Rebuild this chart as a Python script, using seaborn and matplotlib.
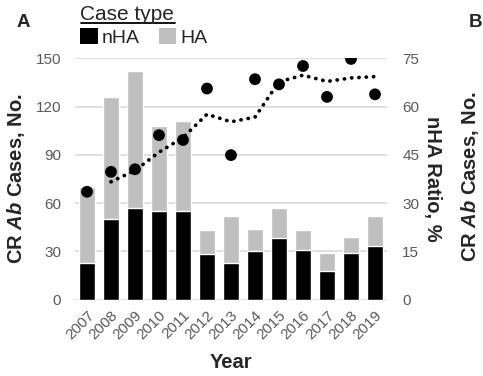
import numpy as np
import pandas as pd
import matplotlib
matplotlib.use("Agg")
import matplotlib.pyplot as plt
from matplotlib.patches import Patch
from matplotlib.lines import Line2D
import seaborn as sns

years = [2007, 2008, 2009, 2010, 2011, 2012, 2013, 2014, 2015, 2016, 2017, 2018, 2019]
total_cases = [70, 126, 142, 108, 111, 43, 52, 44, 57, 43, 29, 39, 52]
nha_cases = [23, 50, 57, 55, 55, 28, 23, 30, 38, 31, 18, 29, 33]
nha_ratio = [33.5, 39.7, 40.5, 51.1, 49.6, 65.6, 44.9, 68.5, 66.9, 72.6, 63.0, 74.8, 63.8]
left_ticks = [0, 30, 60, 90, 120, 150]
right_ticks = [0, 15, 30, 45, 60, 75]

df = pd.DataFrame({"Year": years, "Total": total_cases, "nHA": nha_cases, "Ratio": nha_ratio})
df["Trend"] = df["Ratio"].rolling(2).mean()

sns.set_theme(style="white")
plt.rcParams["font.family"] = ["Liberation Sans", "DejaVu Sans"]
plt.rcParams["mathtext.fontset"] = "custom"
plt.rcParams["mathtext.rm"] = "Liberation Sans"
plt.rcParams["mathtext.it"] = "Liberation Sans:italic"
plt.rcParams["mathtext.bf"] = "Liberation Sans:bold"
plt.rcParams["mathtext.bfit"] = "Liberation Sans:italic:bold"

W, H = 483, 376
fig = plt.figure(figsize=(W / 100, H / 100), dpi=100)
ax = fig.add_axes([75 / W, 1 - 299.5 / H, (387 - 75) / W, (299.5 - 58.3) / H])

gray_col = "#bfbfbf"
tick_col = "#595959"
label_fs = 14.5

sns.barplot(data=df, x="Year", y="Total", native_scale=True, color=gray_col,
            saturation=1, width=0.69, ax=ax, zorder=2)
sns.barplot(data=df, x="Year", y="nHA", native_scale=True, color="black",
            saturation=1, width=0.69, ax=ax, zorder=3)

ax.set_xlim(2006.5, 2019.5)
ax.set_ylim(0, 150)
ax.set_yticks(left_ticks)
ax.set_xticks(years)
ax.set_xticklabels([str(y) for y in years], rotation=45, ha="right",
                   rotation_mode="anchor", fontsize=11, color=tick_col)
ax.tick_params(axis="x", length=0, pad=6)
ax.tick_params(axis="y", length=0, pad=10, labelsize=11, labelcolor=tick_col)
ax.yaxis.grid(True, color="#d9d9d9", lw=1.2, zorder=0)
ax.set_axisbelow(True)
for s in ax.spines.values():
    s.set_visible(False)
ax.set_xlabel("Year", fontsize=label_fs, fontweight="bold", labelpad=8)
ax.set_ylabel(r"CR $\mathbfit{Ab}$ Cases, No.", fontsize=label_fs, fontweight="bold", labelpad=6)

ax2 = ax.twinx()
sns.scatterplot(data=df, x="Year", y="Ratio", color="black", s=72, ax=ax2,
                zorder=5, edgecolor="none", legend=False)
sns.lineplot(data=df.dropna(), x="Year", y="Trend", color="black", lw=2.7,
             ax=ax2, zorder=4, dashes=False, legend=False)
ax2.lines[-1].set_linestyle((0, (0.05, 1.9)))
ax2.lines[-1].set_dash_capstyle("round")
ax2.set_ylim(0, 75)
ax2.set_yticks(right_ticks)
ax2.tick_params(axis="y", length=0, pad=11, labelsize=11, labelcolor=tick_col)
for s in ax2.spines.values():
    s.set_visible(False)
ax2.set_ylabel("nHA Ratio, %", fontsize=label_fs, fontweight="bold", rotation=270, labelpad=16)
ax2.set_xlim(2006.5, 2019.5)

# legend
fig.text(80 / W, 1 - 20.5 / H, "Case type", fontsize=15, ha="left", va="baseline")
fig.add_artist(Line2D([80.5 / W, 175 / W], [1 - 23 / H, 1 - 23 / H], color="black", lw=1.3))
handles = [Patch(facecolor="black", edgecolor="none", label="nHA"),
           Patch(facecolor=gray_col, edgecolor="none", label="HA")]
fig.legend(handles=handles, loc="center left", bbox_to_anchor=(80 / W, 1 - 37.5 / H),
           ncol=2, frameon=False, fontsize=14, handlelength=0.9, handleheight=0.9,
           handletextpad=0.2, columnspacing=1.0, borderpad=0, borderaxespad=0)

fig.text(17 / W, 1 - 27 / H, "A", fontsize=13.5, fontweight="bold", ha="left", va="baseline")
fig.text(469 / W, 1 - 27 / H, "B", fontsize=13.5, fontweight="bold", ha="left", va="baseline")
fig.text(470 / W, 1 - 177 / H, r"CR $\mathbfit{Ab}$ Cases, No.", fontsize=label_fs,
         fontweight="bold", rotation=90, ha="center", va="center")

fig.savefig("out.png", dpi=100)
